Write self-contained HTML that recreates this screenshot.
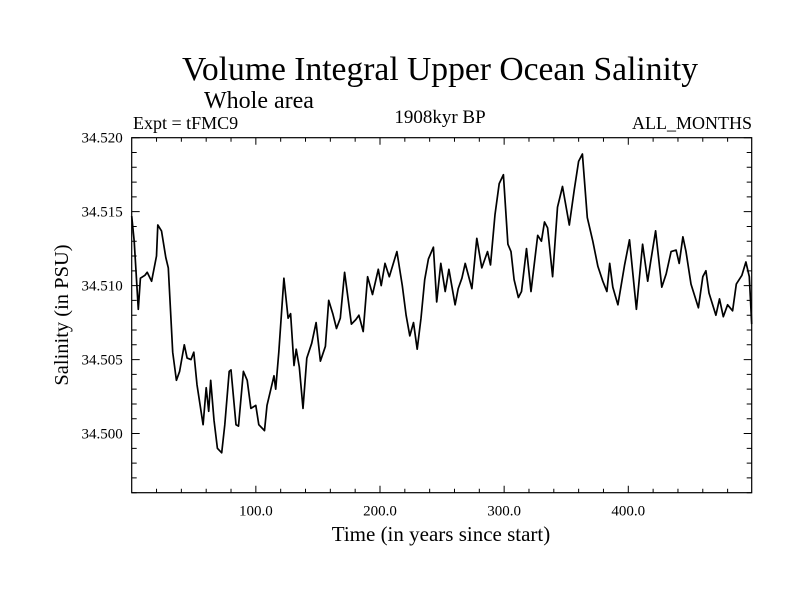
<!DOCTYPE html>
<html><head><meta charset="utf-8"><style>
body{margin:0;background:#fff}
svg text{font-family:"Liberation Serif",serif;fill:#000}
</style></head><body>
<svg id="chart" width="800" height="600" viewBox="0 0 800 600" xmlns="http://www.w3.org/2000/svg">
<rect width="800" height="600" fill="#fff"/>
<text x="440" y="80" font-size="33.6" text-anchor="middle">Volume Integral Upper Ocean Salinity</text>
<text x="204" y="108" font-size="24">Whole area</text>
<text x="133" y="129" font-size="18">Expt = tFMC9</text>
<text x="440" y="123" font-size="19" text-anchor="middle">1908kyr BP</text>
<text x="752" y="129" font-size="18" text-anchor="end">ALL_MONTHS</text>
<text x="441" y="541" font-size="21" text-anchor="middle">Time (in years since start)</text>
<text transform="translate(68,315) rotate(-90)" font-size="20.5" text-anchor="middle">Salinity (in PSU)</text>
<g id="axes"></g>
<g id="series"></g>
</svg>
<script>
const years=[0,2,5.3,7,10.6,12.5,16,20,21,24,27.5,29.5,33,36,38.6,42.4,44.6,47.8,50,52.6,57.5,60,62,63.6,66.3,69,72.5,75,78.5,80,84,86,90,93,96,100,102.4,107,109,114.6,116,118.5,122.6,126,128,130.7,132.5,135,138,141,145,148.5,152,156,158.7,162,165,168,171.5,177,180.5,183,186.5,190,194,198.6,201,204,207.5,213.6,218,221,224,227,230,233,236,239,243,245.7,249,252.5,255.5,260.5,263,266,268.6,274,278,282,286.6,289,292.6,296,299.4,303,305.5,308,311.5,314,318,321.6,327,330,332.5,335,339,343,347,352.5,356.5,360,363,367,371.4,375.5,379.5,382.8,385,387.5,391.6,397,401,406.5,411.5,415.6,418,422,427,430.5,434.5,438.5,441,444,446.5,450.5,456.5,460,462.5,465,470.6,473.5,476.5,480,484,487,491.5,494.7,497.5,499.4];
const salinity=[34.5147,34.5130,34.5084,34.5105,34.5107,34.5109,34.5103,34.5120,34.5141,34.5137,34.5119,34.5112,34.5055,34.5036,34.5042,34.5060,34.5051,34.5050,34.5055,34.5033,34.5006,34.5031,34.5015,34.5036,34.5009,34.4990,34.4987,34.5006,34.5042,34.5043,34.5006,34.5005,34.5042,34.5036,34.5017,34.5019,34.5006,34.5002,34.5019,34.5039,34.5030,34.5055,34.5105,34.5078,34.5081,34.5046,34.5057,34.5045,34.5017,34.5051,34.5061,34.5075,34.5049,34.5059,34.5090,34.5081,34.5071,34.5078,34.5109,34.5074,34.5077,34.5080,34.5069,34.5106,34.5094,34.5111,34.5100,34.5115,34.5106,34.5123,34.5100,34.5080,34.5066,34.5075,34.5057,34.5078,34.5104,34.5118,34.5126,34.5089,34.5115,34.5096,34.5111,34.5087,34.5098,34.5105,34.5115,34.5098,34.5132,34.5112,34.5123,34.5114,34.5148,34.5169,34.5175,34.5128,34.5123,34.5104,34.5092,34.5096,34.5125,34.5096,34.5134,34.5130,34.5143,34.5139,34.5106,34.5153,34.5167,34.5141,34.5165,34.5184,34.5189,34.5146,34.5130,34.5113,34.5103,34.5096,34.5115,34.5099,34.5087,34.5114,34.5131,34.5084,34.5128,34.5103,34.5116,34.5137,34.5099,34.5108,34.5123,34.5124,34.5115,34.5133,34.5123,34.5101,34.5085,34.5106,34.5110,34.5095,34.5080,34.5091,34.5079,34.5087,34.5083,34.5101,34.5107,34.5116,34.5106,34.5074];
const xTickValues=[100,200,300,400];
const xTickLabels=["100.0","200.0","300.0","400.0"];
const yTickValues=[34.500,34.505,34.510,34.515,34.520];
const yTickLabels=["34.500","34.505","34.510","34.515","34.520"];
const L=131.7,R=751.7,T=137.7,B=492.7,X0=0,X1=499.4,Y0=34.496,Y1=34.520;
const sx=v=>L+(v-X0)/(X1-X0)*(R-L);
const sy=v=>B-(v-Y0)/(Y1-Y0)*(B-T);
const NS="http://www.w3.org/2000/svg";
const axes=document.getElementById('axes');
function mk(tag,attrs,parent){const e=document.createElementNS(NS,tag);for(const k in attrs)e.setAttribute(k,attrs[k]);parent.appendChild(e);return e;}
const frame=mk('rect',{x:L,y:T,width:R-L,height:B-T,fill:'none',stroke:'#000','stroke-width':1.2},axes);


let d='';
for(let v=20;v<X1;v+=20){const x=sx(v);const len=(v%100===0)?7:4;d+=`M${x},${B}v${-len}M${x},${T}v${len}`;}
for(let i=0;i<=24;i++){const v=Y0+i*0.001;const y=sy(v);const len=(Math.round(v*1000)%5===0)?8:5;d+=`M${L},${y}h${len}M${R},${y}h${-len}`;}
const ticks=mk('path',{d:d,stroke:'#000','stroke-width':1,fill:'none'},axes);


xTickValues.forEach((v,i)=>{const t=mk('text',{x:sx(v),y:B+23,'font-size':15,'text-anchor':'middle'},axes);t.textContent=xTickLabels[i];

});
yTickValues.forEach((v,i)=>{const t=mk('text',{x:L-9,y:sy(v)+5,'font-size':15,'text-anchor':'end'},axes);t.textContent=yTickLabels[i];

});
const pts=years.map((y,i)=>sx(y).toFixed(1)+','+sy(salinity[i]).toFixed(1)).join(' ');
const line=mk('polyline',{points:pts,fill:'none',stroke:'#000','stroke-width':1.7,'stroke-linejoin':'round'},document.getElementById('series'));


</script>
</body></html>
